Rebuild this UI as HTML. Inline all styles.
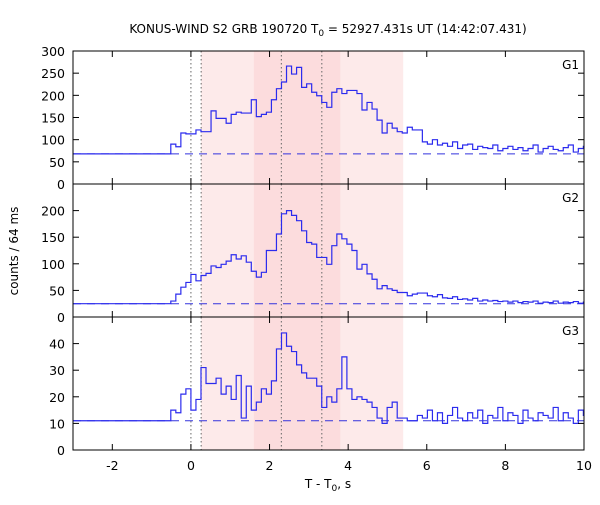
<!DOCTYPE html>
<html><head><meta charset="utf-8"><style>
body{margin:0;background:#fff;}
svg text{font-family:"DejaVu Sans","Liberation Sans",sans-serif;fill:#000;}
</style></head><body>
<svg id="chart" width="600" height="500" xmlns="http://www.w3.org/2000/svg">
<text x="328" y="33" font-size="12" text-anchor="middle">KONUS-WIND S2 GRB 190720 T<tspan font-size="9" dy="3">0</tspan><tspan dy="-3"> = 52927.431s UT (14:42:07.431)</tspan></text>
<text transform="translate(18,251) rotate(-90)" font-size="12" text-anchor="middle">counts / 64 ms</text>
<text x="328" y="488" font-size="12" text-anchor="middle">T - T<tspan font-size="9" dy="3">0</tspan><tspan dy="-3">, s</tspan></text>
<g id="plots"></g>
</svg>
<script>
const binStart = -0.512;
const binWidth = 0.128;
const preLevels = [68, 25, 11];
const g1Values = [90,84,115,113,113,122,118,118,165,148,148,137,157,162,160,160,190,152,157,162,190,215,230,266,248,263,218,226,207,199,184,173,207,215,204,211,211,204,167,184,169,144,115,137,126,118,115,128,122,122,95,90,100,88,92,85,95,80,88,90,78,85,82,80,88,75,80,85,78,82,75,80,88,72,80,85,78,75,82,88,72,80,85];
const g2Values = [30,43,56,65,80,68,78,82,96,93,99,105,117,109,115,103,86,75,84,125,125,156,194,200,191,181,162,140,137,112,112,99,134,156,147,137,125,90,99,81,71,53,59,53,50,46,46,40,43,45,45,40,38,42,36,35,38,33,34,32,35,30,32,30,31,29,30,28,30,27,29,28,30,26,28,27,30,26,28,27,29,26,28];
const g3Values = [15,14,21,23,15,19,31,25,25,27,21,24,19,28,12,24,15,18,23,21,26,38,44,39,37,32,29,27,27,24,16,20,18,23,35,23,19,20,19,18,16,12,10,16,18,12,12,11,11,13,12,15,11,14,10,13,16,12,11,14,12,15,10,13,12,16,11,14,13,10,15,12,11,14,13,12,16,11,14,12,10,15,13];
const panelNames = ["G1","G2","G3"];
const yMaxes = [300, 250, 50];
const yTicks = [[0,50,100,150,200,250,300],[0,50,100,150,200],[0,10,20,30,40]];
const xTicks = [-2,0,2,4,6,8,10];
const vLines = [0, 0.26, 2.3, 3.33];
const lightBand = [0.26, 5.4];
const darkBand = [1.6, 3.8];

const NS="http://www.w3.org/2000/svg";
const X0=73, X1=584, TMIN=-3, TMAX=10;
const xs = t => X0 + (t-TMIN)/(TMAX-TMIN)*(X1-X0);
const panelTop=[51,184,317], PH=133;
const g = document.getElementById('plots');
function mk(tag, attrs, parent){const e=document.createElementNS(NS,tag);for(const k in attrs)e.setAttribute(k,attrs[k]);(parent||g).appendChild(e);return e;}
const series=[g1Values,g2Values,g3Values];
for(let p=0;p<3;p++){
  const top=panelTop[p], bot=top+PH;
  const ys = v => bot - v/yMaxes[p]*PH;
  const pg = mk('g',{});
  
  
  let r=mk('rect',{x:xs(lightBand[0]),y:top,width:xs(lightBand[1])-xs(lightBand[0]),height:PH,fill:'#fdeaea'},pg);
  
  
  r=mk('rect',{x:xs(darkBand[0]),y:top,width:xs(darkBand[1])-xs(darkBand[0]),height:PH,fill:'#fcdcdd'},pg);
  
  
  vLines.forEach(t=>{const l=mk('line',{x1:xs(t),x2:xs(t),y1:top,y2:bot,stroke:'#666','stroke-width':1,'stroke-dasharray':'1.5,2.5'},pg);
    
    });
  const bl=mk('line',{x1:X0,x2:X1,y1:ys(preLevels[p]),y2:ys(preLevels[p]),stroke:'#3333dd','stroke-width':1,'stroke-dasharray':'8,6'},pg);
  
  
  const vals=series[p];
  let d='M'+X0+','+ys(preLevels[p])+' H'+xs(binStart);
  for(let i=0;i<vals.length;i++){
    const t0=binStart+i*binWidth, t1=Math.min(t0+binWidth,TMAX);
    d+=' V'+ys(vals[i])+' H'+xs(t1);
    if(t1>=TMAX)break;
  }
  const path=mk('path',{d:d,fill:'none',stroke:'#2b2bee','stroke-width':1.2},pg);
  
  
  const fr=mk('rect',{x:X0,y:top,width:X1-X0,height:PH,fill:'none',stroke:'#000','stroke-width':1},pg);
  
  
  yTicks[p].forEach(v=>{
    mk('line',{x1:X0,x2:X0+6,y1:ys(v),y2:ys(v),stroke:'#000'},pg);
    mk('line',{x1:X1,x2:X1-6,y1:ys(v),y2:ys(v),stroke:'#000'},pg);
    const tx=mk('text',{x:X0-8,y:ys(v)+5,'font-size':12.5,'text-anchor':'end'},pg);
    tx.textContent=v;
    
    
  });
  xTicks.forEach(t=>{
    mk('line',{x1:xs(t),x2:xs(t),y1:bot,y2:bot-6,stroke:'#000'},pg);
    mk('line',{x1:xs(t),x2:xs(t),y1:top,y2:top+6,stroke:'#000'},pg);
  });
  const lb=mk('text',{x:X1-5,y:top+18,'font-size':12,'text-anchor':'end'},pg);
  lb.textContent=panelNames[p];
  
  
}
xTicks.forEach(t=>{
  const tx=mk('text',{x:xs(t),y:470,'font-size':12.5,'text-anchor':'middle'});
  tx.textContent=t;
  
  
});
</script>
</body></html>
